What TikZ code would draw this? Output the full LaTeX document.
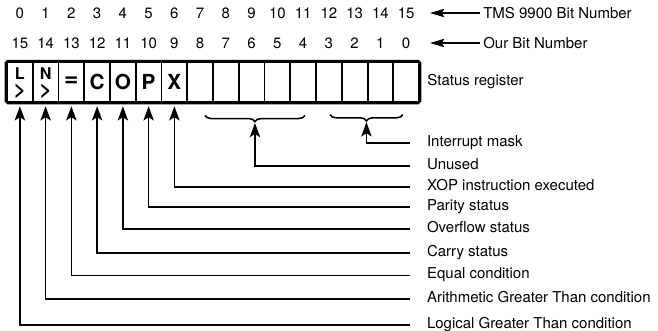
\documentclass[tikz,border=0pt]{standalone}
\usepackage{fontspec}
\setmainfont{TeX Gyre Heros}
\usetikzlibrary{arrows.meta,decorations.pathreplacing}

\begin{document}
\begin{tikzpicture}[
    font=\fontsize{11.6}{14}\selectfont,
    cell/.style={draw, line width=1.5pt, minimum width=0.7cm, minimum height=1.087cm, inner sep=0pt},
    sym/.style={inner sep=0pt, font=\fontsize{16}{16}\selectfont\bfseries},
    smallsym/.style={inner sep=0pt, font=\fontsize{12.5}{12.5}\selectfont\bfseries},
    num/.style={inner sep=1pt},
    lbl/.style={anchor=west, inner xsep=0.45cm, inner ysep=0pt, text height=0.72em, text depth=0.2em},
    uparrow/.style={line width=1.2pt, -{Stealth[length=11pt,width=8pt,inset=2.5pt]}, shorten >=2.5pt},
    leftarrow/.style={line width=1.2pt, -{Stealth[length=11pt,width=6.5pt,inset=2pt]}},
    bracestyle/.style={line width=1.2pt, decorate, decoration={brace,mirror,amplitude=0.17cm}}
]
    \useasboundingbox (0,0) rectangle (17.885,8.997);

    % Register cells and bit numbers
    \foreach \i in {0,...,15} {
        \node[cell] (c\i) at ({0.54+0.7*\i},6.7675) {};
        \node[num] (t\i) at ({0.54+0.7*\i},8.643) {\i};
        \pgfmathtruncatemacro\ours{15-\i}
        \node[num] (o\i) at ({0.54+0.7*\i},7.828) {\ours};
    }
    \draw[line width=2pt, rounded corners=1.5pt] (c0.north west) rectangle (c15.south east);

    % Flag symbols
    \foreach \i/\s in {0/L, 1/N} {
        \node[smallsym, anchor=south] (u\i) at ([yshift=0.05cm]c\i.center) {\s};
        \node[sym, anchor=north] (g\i) at ([yshift=-0.04cm]c\i.center) {>};
    }
    \foreach \i/\s in {2/{\fontsize{19}{19}\selectfont=}, 3/C, 4/O, 5/P, 6/X}
        \node[sym] (s\i) at (c\i) {\s};

    % Numbering rows
    \node[anchor=west, inner xsep=0.08cm] (tms) at (13.05,8.643) {TMS 9900 Bit Number};
    \node[anchor=west, inner xsep=0.08cm] (our) at (13.05,7.828) {Our Bit Number};
    \coordinate (tmsTip) at (11.69,8.643);
    \coordinate (ourTip) at (11.69,7.828);
    \draw[leftarrow] (tms.west) -- (tmsTip);
    \draw[leftarrow] (our.west) -- (ourTip);
    \node[anchor=west, inner sep=0pt] (reg) at (11.61,6.768) {Status register};

    % Braces
    \draw[bracestyle] (5.57,5.86) -- (8.29,5.86);
    \draw[bracestyle] (8.97,5.88) -- (10.95,5.88);
    \coordinate (unusedTip) at (6.93,5.69);
    \coordinate (maskTip) at (9.96,5.71);

    % Labels and arrows
    \node[lbl] (lMask) at (11.15,5.11) {Interrupt mask};
    \node[lbl] (lUnused) at (11.15,4.48) {Unused};
    \draw[uparrow, shorten >=1pt] (lMask.west) -| (maskTip);
    \draw[uparrow, shorten >=1pt] (lUnused.west) -| (unusedTip);
    \foreach \i/\y/\txt in {6/3.91/XOP instruction executed,
                            5/3.37/Parity status,
                            4/2.77/Overflow status,
                            3/2.12/Carry status,
                            2/1.51/Equal condition,
                            1/0.87/Arithmetic Greater Than condition,
                            0/0.16/Logical Greater Than condition} {
        \node[lbl] (l\i) at (11.15,\y) {\txt};
        \draw[uparrow] (l\i.west) -| (c\i.south);
    }
\end{tikzpicture}
\end{document}
